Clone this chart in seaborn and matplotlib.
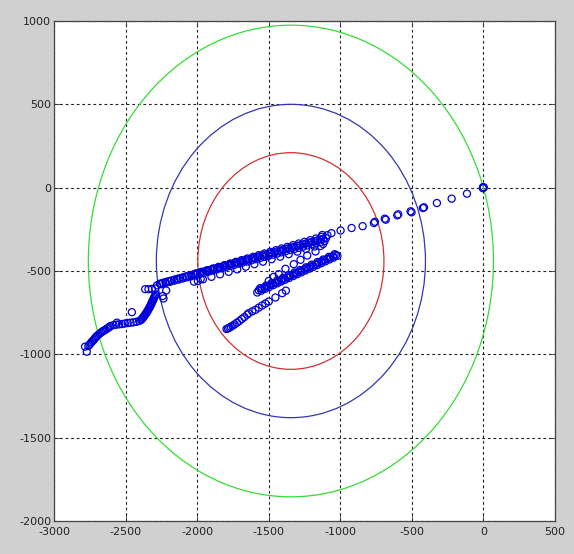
import numpy as np
import pandas as pd
import matplotlib
matplotlib.use("Agg")
import matplotlib.pyplot as plt
from matplotlib.patches import Ellipse
import seaborn as sns

# ---------------- data ----------------
main_x = [0, -4, 2, -3, -115, -222, -325, -423, -415, -509, -502, -602, -595,
          -689, -682, -765, -758, -844, -921, -998, -1062, -1126]
main_y = [0, -3, 2, 3, -36, -66, -92, -122, -118, -142, -148, -166, -160,
          -186, -192, -212, -205, -231, -242, -257, -273, -284]

rowA_x = [-1090, -1130, -1170, -1210, -1250, -1290, -1330, -1370, -1410, -1450,
          -1490, -1530, -1570, -1610, -1650, -1690, -1730, -1770, -1810, -1850,
          -1890, -1930, -1970, -2010]
rowA_y = [-285, -295, -305, -315, -325, -335, -345, -355, -365, -375,
          -385, -395, -405, -415, -425, -435, -445, -455, -465, -475,
          -485, -495, -505, -515]

rowB_x = [-1110, -1140, -1170, -1200, -1230, -1260, -1290, -1320, -1350, -1380,
          -1410, -1440, -1470, -1500, -1530, -1560, -1590, -1620, -1650, -1680,
          -1710, -1740, -1770, -1800, -1830, -1860, -1890, -1920, -1950, -1980,
          -2010, -2040, -2070, -2100, -2130, -2160, -2190, -2220, -2250, -2280]
rowB_y = [-320, -327, -334, -340, -347, -354, -361, -368, -374, -381,
          -388, -395, -402, -409, -415, -422, -429, -436, -443, -449,
          -456, -463, -470, -477, -484, -490, -497, -504, -511, -518,
          -524, -531, -538, -545, -552, -558, -565, -572, -579, -586]

rowC_x = [-1960, -1900, -1840, -1780, -1720, -1660, -1600, -1540, -1480, -1420,
          -1360, -1300, -1240, -1180, -1120]
rowC_y = [-550, -535, -520, -505, -490, -474, -459, -444, -429, -414,
          -399, -384, -368, -353, -338]

rowD_x = [-1100, -1120, -1140, -1160, -1180, -1200, -1220, -1240, -1260, -1280,
          -1300, -1320, -1340, -1360, -1380, -1400, -1420, -1440, -1460, -1480,
          -1500, -1520, -1540, -1560, -1580, -1600, -1620, -1640, -1660, -1680,
          -1700, -1720, -1740, -1760, -1780, -1800, -1820, -1840, -1860, -1880,
          -1900, -1920, -1940, -1960, -1980, -2000, -2020, -2040, -2060, -2080,
          -2100, -2120, -2140, -2160, -2180, -2200, -2220, -2240, -2260]
rowD_y = [-302, -307, -311, -316, -321, -326, -330, -335, -340, -345,
          -349, -354, -359, -363, -368, -373, -378, -382, -387, -392,
          -396, -401, -406, -411, -415, -420, -425, -429, -434, -439,
          -444, -448, -453, -458, -462, -467, -472, -477, -481, -486,
          -491, -495, -500, -505, -510, -514, -519, -524, -528, -533,
          -538, -543, -547, -552, -557, -561, -566, -571, -576]

extra_x = [-2022, -1995, -1975, -2240, -2235, -2216]
extra_y = [-564, -560, -548, -650, -665, -617]

left_x = [-2363, -2340, -2316, -2293,
          -2290, -2298, -2306, -2314, -2322, -2330, -2340, -2350, -2360, -2370, -2380, -2392,
          -2294, -2302, -2310, -2318, -2326, -2335, -2345, -2355, -2365, -2375, -2386,
          -2405, -2425, -2445, -2465, -2485, -2505, -2525, -2545, -2565, -2585, -2605,
          -2620, -2640, -2660, -2680, -2700, -2715, -2730, -2745, -2760, -2771,
          -2612, -2630, -2650, -2670, -2690, -2708, -2722, -2738, -2752,
          -2456, -2561, -2783]
left_y = [-609, -609, -607, -605,
          -640, -655, -670, -685, -700, -715, -730, -745, -758, -770, -782, -794,
          -648, -663, -678, -693, -708, -722, -738, -752, -764, -776, -788,
          -800, -805, -808, -810, -812, -815, -818, -820, -822, -825, -830,
          -840, -852, -862, -875, -890, -905, -920, -935, -950, -984,
          -835, -846, -857, -868, -882, -897, -912, -927, -942,
          -747, -810, -954]

mid1_x = [-1580, -1552, -1524, -1496, -1468, -1440, -1412, -1384, -1356, -1328,
          -1300, -1272, -1244, -1216, -1188, -1160, -1132, -1104, -1076, -1048, -1020]
mid1_y = [-629, -618, -607, -596, -585, -574, -563, -552, -541, -530,
          -519, -508, -497, -486, -475, -464, -453, -442, -431, -420, -409]
mid2_x = [-1560, -1520, -1480, -1440, -1400, -1360, -1320, -1280, -1240, -1200,
          -1160, -1120, -1080, -1040]
mid2_y = [-603, -588, -572, -556, -541, -525, -509, -494, -478, -462,
          -446, -431, -415, -399]
mid3_x = [-1570, -1550, -1530, -1510, -1490, -1470, -1450, -1430, -1410, -1390,
          -1370, -1350, -1330, -1310, -1290, -1270, -1250, -1230, -1210, -1190,
          -1170, -1150, -1130, -1110, -1090, -1070, -1050, -1030]
mid3_y = [-616, -608, -600, -592, -584, -576, -569, -561, -553, -545,
          -537, -529, -521, -514, -506, -498, -490, -482, -474, -467,
          -459, -451, -443, -435, -427, -419, -412, -404]

low_x = [-1795, -1785, -1775, -1765, -1752, -1738, -1722, -1705, -1688, -1670,
         -1650, -1640, -1615, -1593, -1570, -1546, -1523, -1500, -1453, -1406, -1380]
low_y = [-848, -845, -840, -835, -828, -820, -810, -800, -788, -776,
         -762, -753, -742, -733, -720, -707, -695, -683, -659, -633, -618]

up_x = [-1500, -1465, -1430, -1383, -1325, -1278, -1231, -1173, -1138]
up_y = [-560, -535, -519, -487, -459, -433, -407, -383, -350]

# circles: center and radii
circ_cx, circ_cy = -1345, -440
circ_r = [1415, 940, 650]
circ_colors = ["#33dd33", "#3535b5", "#d03030"]

xticks = [-3000, -2500, -2000, -1500, -1000, -500, 0, 500]
yticks = [-2000, -1500, -1000, -500, 0, 500, 1000]

# ---------------- plot ----------------
xs = (main_x + rowA_x + rowB_x + rowC_x + rowD_x + extra_x + left_x
      + mid1_x + mid2_x + mid3_x + low_x + up_x)
ys = (main_y + rowA_y + rowB_y + rowC_y + rowD_y + extra_y + left_y
      + mid1_y + mid2_y + mid3_y + low_y + up_y)
df = pd.DataFrame({"x": xs, "y": ys})

fig = plt.figure(figsize=(5.74, 5.54), dpi=100, facecolor="#d0d0d0")
ax = fig.add_axes([54 / 574, 1 - 521 / 554, (555 - 54) / 574, (521 - 21) / 554])
ax.set_facecolor("white")

for r, c in zip(circ_r, circ_colors):
    ax.add_patch(Ellipse((circ_cx, circ_cy), 2 * r, 2 * r, fill=False,
                         edgecolor=c, linewidth=0.9, zorder=2))

sns.scatterplot(data=df, x="x", y="y", ax=ax, marker="o", s=26,
                facecolors="none", edgecolor="#0000dd", linewidth=0.9,
                legend=False, zorder=3)

ax.set_xlim(-3000, 500)
ax.set_ylim(-2000, 1000)
ax.set_xticks(xticks)
ax.set_yticks(yticks)
ax.set_xticklabels([str(t) for t in xticks])
ax.set_yticklabels([str(t) for t in yticks])
ax.set_xlabel("")
ax.set_ylabel("")
ax.grid(True, color="#222222", linestyle=(0, (2.5, 2.5)), linewidth=0.8)
ax.set_axisbelow(True)
ax.tick_params(direction="in", length=4, width=0.6, labelsize=8,
               top=True, right=True, colors="#333333", labelcolor="#222222")
ax.tick_params(axis="x", pad=4)
ax.tick_params(axis="y", pad=2)
for sp in ax.spines.values():
    sp.set_color("#444444")
    sp.set_linewidth(0.9)

fig.savefig("out.png", dpi=100, facecolor=fig.get_facecolor())
